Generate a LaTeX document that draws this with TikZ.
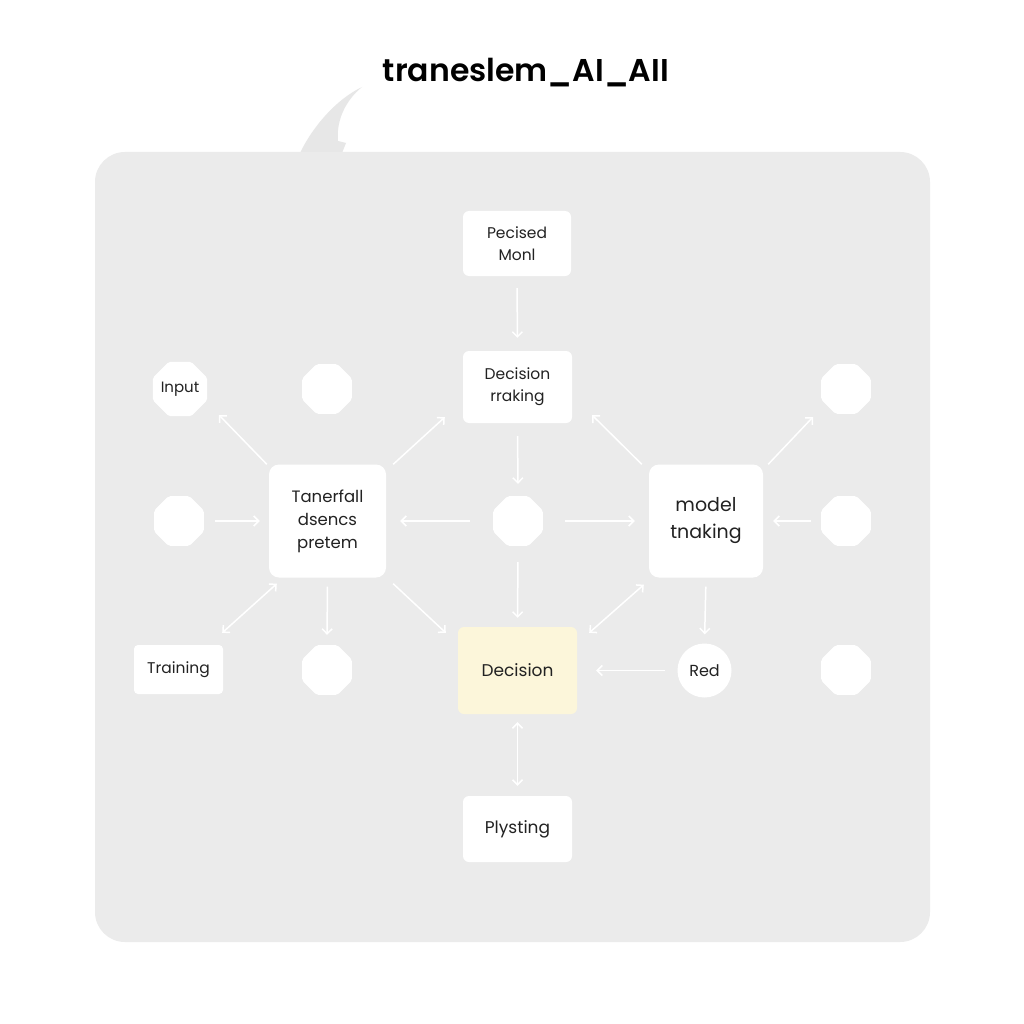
\documentclass[tikz,border=0pt]{standalone}
\usepackage{fontspec}
\setmainfont{Poppins}
\newfontfamily\titlefont{Poppins}[UprightFont=* SemiBold,BoldFont=* SemiBold]
\usetikzlibrary{arrows.meta,shapes.geometric,calc}
\definecolor{panel}{HTML}{EBEBEB}
\definecolor{tailc}{HTML}{E7E7E7}
\definecolor{ybox}{HTML}{FCF6DA}
\definecolor{txt}{HTML}{222222}
\begin{document}
\begin{tikzpicture}[x=1pt,y=-1pt,
  box/.style={draw=none,fill=white,rounded corners=6pt,inner sep=0pt,align=center,text=txt,font=\fontsize{15.5}{22}\selectfont},
  bigbox/.style={box,rounded corners=10pt,minimum width=117pt,minimum height=113pt},
  oct/.style={regular polygon,regular polygon sides=8,fill=white,draw=none,inner sep=0pt,minimum size=54pt,rounded corners=2pt,text=txt,font=\fontsize{15}{18}\selectfont},
  arr/.style={draw=white,line width=1.5pt,-{Straight Barb[length=5pt,width=10pt,line width=1.5pt]}},
  darr/.style={draw=white,line width=1.5pt,{Straight Barb[length=5pt,width=10pt,line width=1.5pt]}-{Straight Barb[length=5pt,width=10pt,line width=1.5pt]}}]
\useasboundingbox (0,0) rectangle (1024,1024);
\fill[white] (0,0) rectangle (1024,1024);
% tail
\fill[tailc] (300,153) .. controls (312,128) and (335,100) .. (362,87)
  .. controls (346,100) and (336,120) .. (338,141) -- (346,143) -- (342,153) -- cycle;
% panel
\fill[panel,rounded corners=30pt] (95,152) rectangle (930,942);
% title
\node[font=\titlefont\fontsize{31.5}{36}\selectfont,text=black] (title) at (526,73) {traneslem\_AI\_AII};
% nodes
\node[box,minimum width=108pt,minimum height=65pt] (pec) at (517,243.5) {Pecised\\Monl};
\node[box,minimum width=109pt,minimum height=72pt] (dec1) at (517.5,387) {Decision\\rraking};
\node[oct] (oc) at (518,521) {};
\node[bigbox,font=\fontsize{16.5}{23}\selectfont] (tan) at (327.5,521) {Tanerfall\\dsencs\\pretem};
\node[bigbox,minimum width=114pt,font=\fontsize{19}{27}\selectfont] (mod) at (706,521) {model\\tnaking};
\node[box,fill=ybox,minimum width=119pt,minimum height=87pt,font=\fontsize{17}{20}\selectfont] (dec) at (517.5,670.5) {Decision};
\node[box,minimum width=109pt,minimum height=66pt,font=\fontsize{17}{20}\selectfont] (ply) at (517.5,829) {Plysting};
\node[circle,fill=white,inner sep=0pt,minimum size=54pt,text=txt,font=\fontsize{16}{20}\selectfont] (red) at (704.5,670.5) {Red};
\node[oct,minimum size=57pt] (inp) at (180,389) {Input};
\node[oct] (t2) at (327,389) {};
\node[oct] (l2) at (179,521) {};
\node[box,rounded corners=4pt,minimum width=89pt,minimum height=49pt] (trn) at (178.5,669.5) {Training};
\node[oct] (b2) at (327,670) {};
\node[oct] (r1) at (846,389) {};
\node[oct] (r2) at (846,521) {};
\node[oct] (r3) at (846,670) {};
% connectors
\draw[arr,shorten <=12pt,shorten >=13pt] (pec.south) -- (dec1.north);
\draw[arr,shorten <=13pt,shorten >=12pt] (dec1.south) -- (oc.north);
\draw[arr,shorten <=23pt,shorten >=14pt] (oc.west) -- (tan.east);
\draw[arr,shorten <=22pt,shorten >=14pt] (oc.east) -- (mod.west);
\draw[arr,shorten <=16pt,shorten >=9pt] (oc.south) -- (dec.north);
\draw[arr,shorten <=11pt,shorten >=9pt] (l2.east) -- (tan.west);
\draw[arr,shorten <=9pt,shorten >=10pt] (tan.south) -- (b2.north);
\draw[arr,shorten <=10pt,shorten >=10pt] (r2.west) -- (mod.east);
\draw[arr,shorten <=9pt,shorten >=9pt] (mod.south) -- (red.north);
\draw[arr,shorten <=12pt,shorten >=19pt] (red.west) -- (dec.east);
\draw[darr,shorten <=8pt,shorten >=10pt] (dec.south) -- (ply.north);
\draw[arr] ([xshift=-2pt]tan.north west) -- ([xshift=39pt,yshift=-26pt]inp.center);
\draw[arr] ([xshift=7pt]tan.north east) -- ([xshift=-18pt,yshift=6pt]dec1.south west);
\draw[darr] ([xshift=8pt,yshift=-6pt]tan.south west) -- ([xshift=-1pt,yshift=12pt]trn.north east);
\draw[arr] ([xshift=7pt,yshift=-6pt]tan.south east) -- ([xshift=-12pt,yshift=-6pt]dec.north west);
\draw[arr] ([xshift=-7pt]mod.north west) -- ([xshift=20pt,yshift=8pt]dec1.south east);
\draw[arr] ([xshift=5pt]mod.north east) -- ([xshift=-33pt,yshift=-28pt]r1.center);
\draw[darr] ([xshift=-5pt,yshift=-7pt]mod.south west) -- ([xshift=12pt,yshift=-6pt]dec.north east);
\end{tikzpicture}
\end{document}
